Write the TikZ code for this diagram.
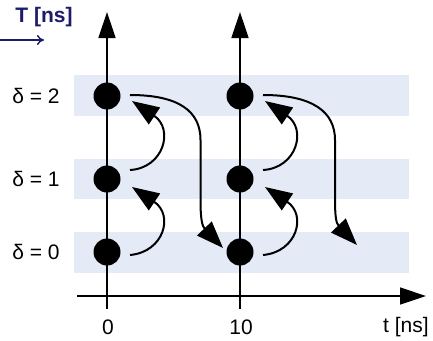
\documentclass[tikz,border=0pt]{standalone}
\usepackage{fontspec}
\setmainfont{Liberation Sans}
\usetikzlibrary{arrows.meta}
\definecolor{band}{HTML}{E5EBF6}
\definecolor{navy}{HTML}{1C1C6A}
\begin{document}
\begin{tikzpicture}[x=1pt,y=-1pt,
  dot/.style={circle,fill=black,minimum size=27pt,inner sep=0pt},
  axis/.style={line width=1.4pt,-{Triangle[length=26pt,width=17pt]}},
  hop/.style={line width=2pt,-{Triangle[length=27pt,width=20pt]}},
  lbl/.style={font=\fontsize{21}{24}\selectfont}]
\useasboundingbox (0,0) rectangle (433,340);
% shaded delta rows
\fill[band] (74,75) rectangle (409,116);
\fill[band] (74,159) rectangle (409,199);
\fill[band] (74,232) rectangle (409,273);
% axes
\coordinate (o0) at (107,309);
\coordinate (o1) at (240,309);
\coordinate (top0) at (107,12);
\coordinate (top1) at (240,12);
\coordinate (hl) at (77,296);
\coordinate (hr) at (426,296);
\draw[axis] (o0) -- (top0);
\draw[axis] (o1) -- (top1);
\draw[axis] (hl) -- (hr);
% dots
\foreach \c/\x in {0/107,1/240}{
  \node[dot] (d\c0) at (\x,252) {};
  \node[dot] (d\c1) at (\x,179) {};
  \node[dot] (d\c2) at (\x,96) {};
}
% labels
\node[lbl] (l2) at (36,96) {δ = 2};
\node[lbl] (l1) at (36,179) {δ = 1};
\node[lbl] (l0) at (36,252) {δ = 0};
\node[lbl] (x0) at (108,327) {0};
\node[lbl] (x1) at (241,327) {10};
\node[lbl] (tx) at (406,327) {t [ns]};
\node[lbl,font=\fontsize{21}{24}\selectfont\bfseries,text=navy] (ty) at (44,17) {T [ns]};
\coordinate (ta) at (0,40);
\coordinate (tb) at (44,40);
\draw[navy,line width=1.4pt,-{To[length=7pt,width=10pt]}] (ta) -- (tb);
% delta steps
\foreach \c in {0,1}{
  \draw[hop] ([shift={(23,3)}]d\c0.center) .. controls +(34,-3) and +(42,28) .. ([shift={(25,8)}]d\c1.center);
  \draw[hop] ([shift={(23,-9)}]d\c1.center) .. controls +(34,-2) and +(42,28) .. ([shift={(25,5)}]d\c2.center);
}
% time steps
\coordinate (e1) at (357,245);
\draw[hop] ([shift={(23,-1)}]d02.center) .. controls +(50,0) and (200.5,112) .. (200.5,140) -- (200.5,200) .. controls (200.5,218) and (202,226) .. ([shift={(-17,-4)}]d10.center);
\draw[hop] ([shift={(23,-1)}]d12.center) .. controls +(50,0) and (335,112) .. (335,140) -- (335,198) .. controls (335,216) and (336,223) .. (e1);
\end{tikzpicture}
\end{document}
